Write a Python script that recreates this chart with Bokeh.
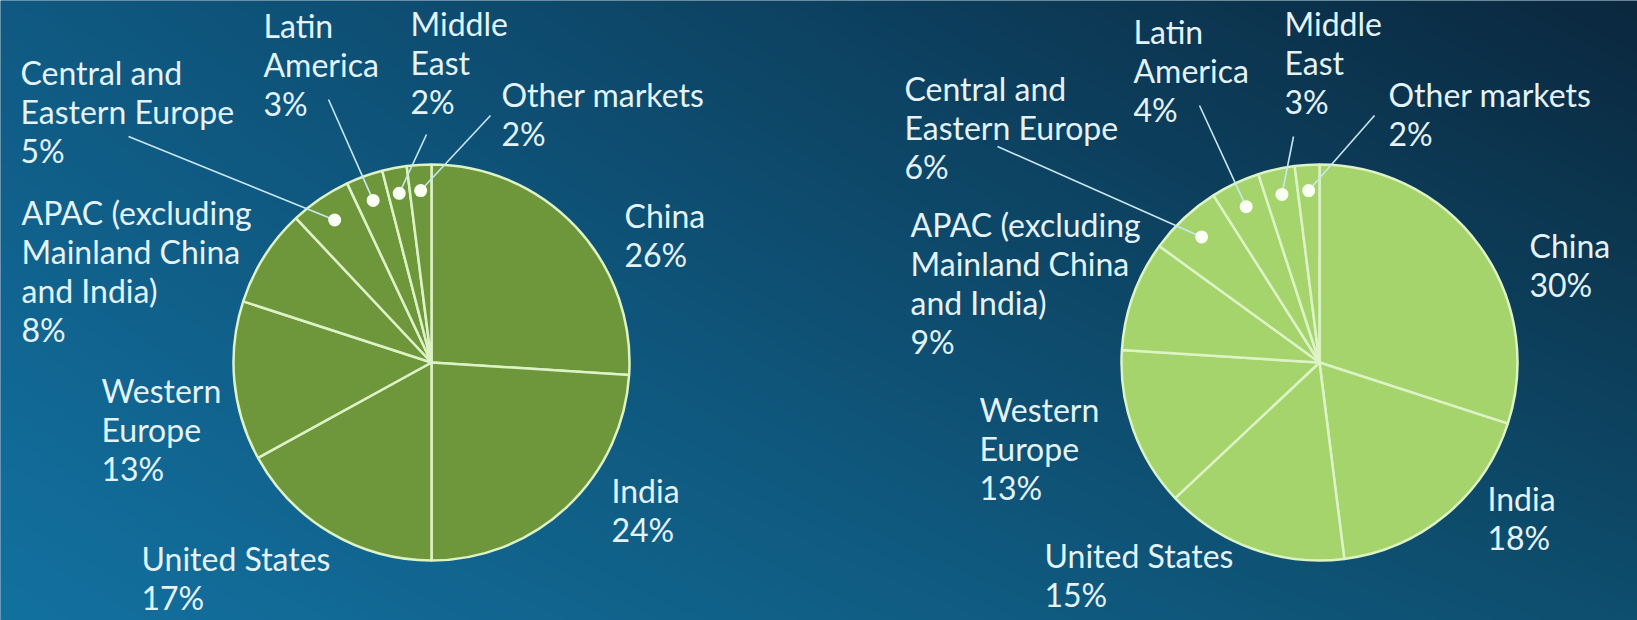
import numpy as np
from bokeh.plotting import figure
from bokeh.models import Range1d, ColumnDataSource
from bokeh.core.properties import value
from bokeh.embed import file_html
from bokeh.resources import INLINE

# ---------------- data ----------------
regions = ["China", "India", "United States", "Western\nEurope",
           "APAC (excluding\nMainland China\nand India)",
           "Central and\nEastern Europe", "Latin\nAmerica", "Middle\nEast",
           "Other markets"]
left_values = [26, 24, 17, 13, 8, 5, 3, 2, 2]
right_values = [30, 18, 15, 13, 9, 6, 4, 3, 2]
leader_regions = ["Central and\nEastern Europe", "Latin\nAmerica", "Middle\nEast", "Other markets"]

# ---------------- layout (reference pixel coords, y down) ----------------
W, H = 1637, 620
RADIUS = 198
LINE_H = 39
TEXT_SHIFT = 10
FONT_SIZE = "32px"
FONT = "Lato"

charts = [
    dict(values=left_values, cx=431, cy=362, fill="#6E963B",
         labels=[(624, 225), (611, 500), (141, 568), (101, 400), (21, 222),
                 (20, 82), (263, 35), (410, 33), (501, 104)],
         leaders={5: (128, 136), 6: (328, 99), 7: (426, 134), 8: (490, 115)}),
    dict(values=right_values, cx=1319, cy=362, fill="#A4D46B",
         labels=[(1529, 255), (1487, 508), (1044, 565), (979, 419), (910, 234),
                 (904, 98), (1133, 41), (1284, 33), (1388, 104)],
         leaders={5: (997, 146), 6: (1199, 105), 7: (1293, 136), 8: (1374, 115)}),
]

def Y(y):
    return H - y

p = figure(width=W, height=H,
           x_range=Range1d(0, W), y_range=Range1d(0, H),
           output_backend="svg", toolbar_location=None, min_border=0,
           x_axis_location=None, y_axis_location=None)
p.xgrid.visible = False
p.ygrid.visible = False
p.outline_line_color = None
p.background_fill_color = "#0E4D70"
p.border_fill_color = "#0E4D70"

# ---------------- background gradient ----------------
gw, gh = 410, 155
u = np.linspace(0, 1, gw)[None, :]
v = np.linspace(0, 1, gh)[:, None]          # 0 = bottom, 1 = top
tl = np.array([15, 90, 131]); tr = np.array([11, 40, 62])
bl = np.array([19, 113, 160]); br = np.array([14, 78, 110])
img = np.empty((gh, gw), dtype=np.uint32)
view = img.view(dtype=np.uint8).reshape((gh, gw, 4))
for c in range(3):
    top = tl[c] * (1 - u) + tr[c] * u
    bot = bl[c] * (1 - u) + br[c] * u
    view[:, :, c] = np.clip(bot * (1 - v) + top * v, 0, 255).astype(np.uint8)
view[:, :, 3] = 255
p.image_rgba(image=[img], x=0, y=0, dw=W, dh=H)

# ---------------- pies ----------------
for ch in charts:
    vals = np.array(ch["values"], dtype=float)
    frac = vals / vals.sum()
    cum = np.concatenate([[0], np.cumsum(frac)])
    start = np.pi / 2 - 2 * np.pi * cum[:-1]
    end = np.pi / 2 - 2 * np.pi * cum[1:]
    mid = (start + end) / 2
    src = ColumnDataSource(dict(x=[ch["cx"]] * len(vals), y=[Y(ch["cy"])] * len(vals),
                                start=start, end=end))
    p.wedge(x="x", y="y", radius=RADIUS, start_angle="end", end_angle="start",
            source=src, fill_color=ch["fill"], line_color="#DDF3C6", line_width=2.5)

    # leader lines and dots
    idx = [regions.index(r) for r in leader_regions]
    dx = [ch["cx"] + 0.87 * RADIUS * np.cos(mid[i]) for i in idx]
    dy = [Y(ch["cy"]) + 0.87 * RADIUS * np.sin(mid[i]) for i in idx]
    lx0 = [ch["leaders"][i][0] for i in idx]
    ly0 = [Y(ch["leaders"][i][1]) for i in idx]
    p.segment(x0=lx0, y0=ly0, x1=dx, y1=dy, line_color="#C9E7F2", line_width=1.6)
    p.scatter(x=dx, y=dy, size=13, fill_color="#FAFFF4", line_color=None)

    # labels
    tx, ty, tt = [], [], []
    for i, name in enumerate(regions):
        lines = name.split("\n") + [f"{ch['values'][i]}%"]
        x0, y0 = ch["labels"][i]
        for k, line in enumerate(lines):
            tx.append(x0)
            ty.append(Y(y0 - TEXT_SHIFT + k * LINE_H))
            tt.append(line)
    p.text(x=tx, y=ty, text=tt, text_font=value(FONT), text_font_size=FONT_SIZE,
           text_color="#E3F3F9", text_baseline="alphabetic", text_align="left")

open("out.html", "w").write(file_html(p, INLINE))
